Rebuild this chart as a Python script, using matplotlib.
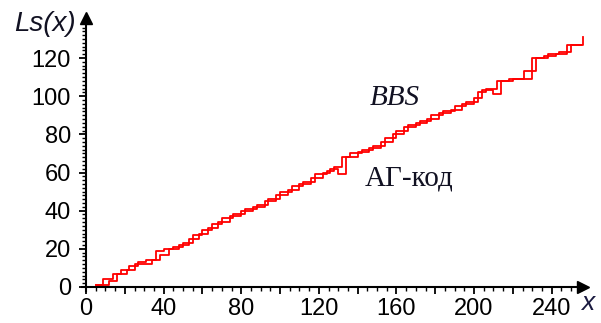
import matplotlib.pyplot as plt
from matplotlib.ticker import MultipleLocator, FixedLocator, FuncFormatter

# ступенчатые кривые
x_bbs = [5, 9, 14, 18, 22, 27, 31, 36, 40, 45, 50, 55, 60, 65, 70, 76, 82, 88,
         94, 100, 106, 112, 118, 124, 128, 132, 136, 142, 148, 154, 160, 166,
         172, 178, 184, 190, 196, 202, 206, 212, 218, 224, 230, 236, 242, 248, 256]
y_bbs = [1, 4, 7, 9, 11, 13, 14, 19, 20, 21, 23, 27, 30, 33, 36, 38, 41, 43,
         46, 50, 53, 55, 59, 61, 63, 68, 70, 72, 74, 78, 82, 85,
         87, 90, 92, 95, 97, 102, 104, 108, 109, 109, 120, 121, 122, 127, 131]

x_ag = [5, 12, 16, 21, 25, 29, 34, 38, 43, 48, 53, 58, 63, 68, 74, 80, 86, 92,
        98, 104, 110, 116, 122, 126, 130, 134, 140, 146, 152, 158, 164, 170,
        176, 182, 188, 194, 200, 204, 210, 214, 220, 226, 232, 238, 244, 250, 255]
y_ag = [1, 3, 7, 9, 12, 12, 14, 17, 20, 22, 25, 28, 31, 34, 37, 40, 42, 45,
        48, 51, 54, 57, 60, 62, 59, 68, 71, 73, 76, 80, 84, 86,
        88, 91, 93, 96, 99, 103, 101, 108, 109, 113, 120, 122, 123, 127, 127]

y_ticks = [0, 20, 40, 60, 80, 100, 120]

fig = plt.figure(figsize=(6.01, 3.23), dpi=100)
ax = fig.add_axes([0.1367, 0.0997, 0.8328, 0.8446])

ax.plot(x_bbs, y_bbs, color="red", lw=1.3, drawstyle="steps-post", clip_on=False)
ax.plot(x_ag, y_ag, color="red", lw=1.3, drawstyle="steps-post", clip_on=False)

ax.set_xlim(-2, 256)
ax.set_ylim(-2, 141)

# оси в нуле со стрелками
for s in ["top", "right"]:
    ax.spines[s].set_visible(False)
ax.spines["left"].set_position(("data", 0))
ax.spines["bottom"].set_position(("data", 0))
ax.spines["left"].set_linewidth(1.5)
ax.spines["bottom"].set_linewidth(1.5)
ax.plot(1, 0, ">k", ms=8, transform=ax.get_yaxis_transform(), clip_on=False)
ax.plot(0, 1, "^k", ms=8, transform=ax.get_xaxis_transform(), clip_on=False)

ax.xaxis.set_major_locator(MultipleLocator(20))
ax.xaxis.set_minor_locator(MultipleLocator(5))
ax.xaxis.set_major_formatter(FuncFormatter(lambda v, p: f"{v:.0f}" if v % 40 == 0 else ""))
ax.yaxis.set_major_locator(FixedLocator(y_ticks))
ax.yaxis.set_minor_locator(FixedLocator(list(range(0, 137, 2))))

ax.tick_params(which="major", length=5, width=1.3, direction="out", pad=3,
               labelsize=17, labelfontfamily="Liberation Sans")
ax.tick_params(which="minor", length=3, width=1.0, direction="out")
ax.tick_params(axis="y", pad=6)

fig.text(0.075, 0.925, "Ls(x)", fontsize=20, style="italic", ha="center", va="center",
         family="Liberation Sans", color="#111122")
fig.text(0.978, 0.062, "x", fontsize=19, style="italic", ha="center", va="center",
         family="Liberation Sans", color="#1a1a40")

ax.text(146, 99, "BBS", fontsize=21, style="italic", family="Liberation Serif",
        va="center", ha="left", color="#111122")
ax.text(143.5, 57, "АГ-код", fontsize=21, family="Liberation Serif",
        va="center", ha="left", color="#111122")

fig.savefig("out.png", dpi=100)
